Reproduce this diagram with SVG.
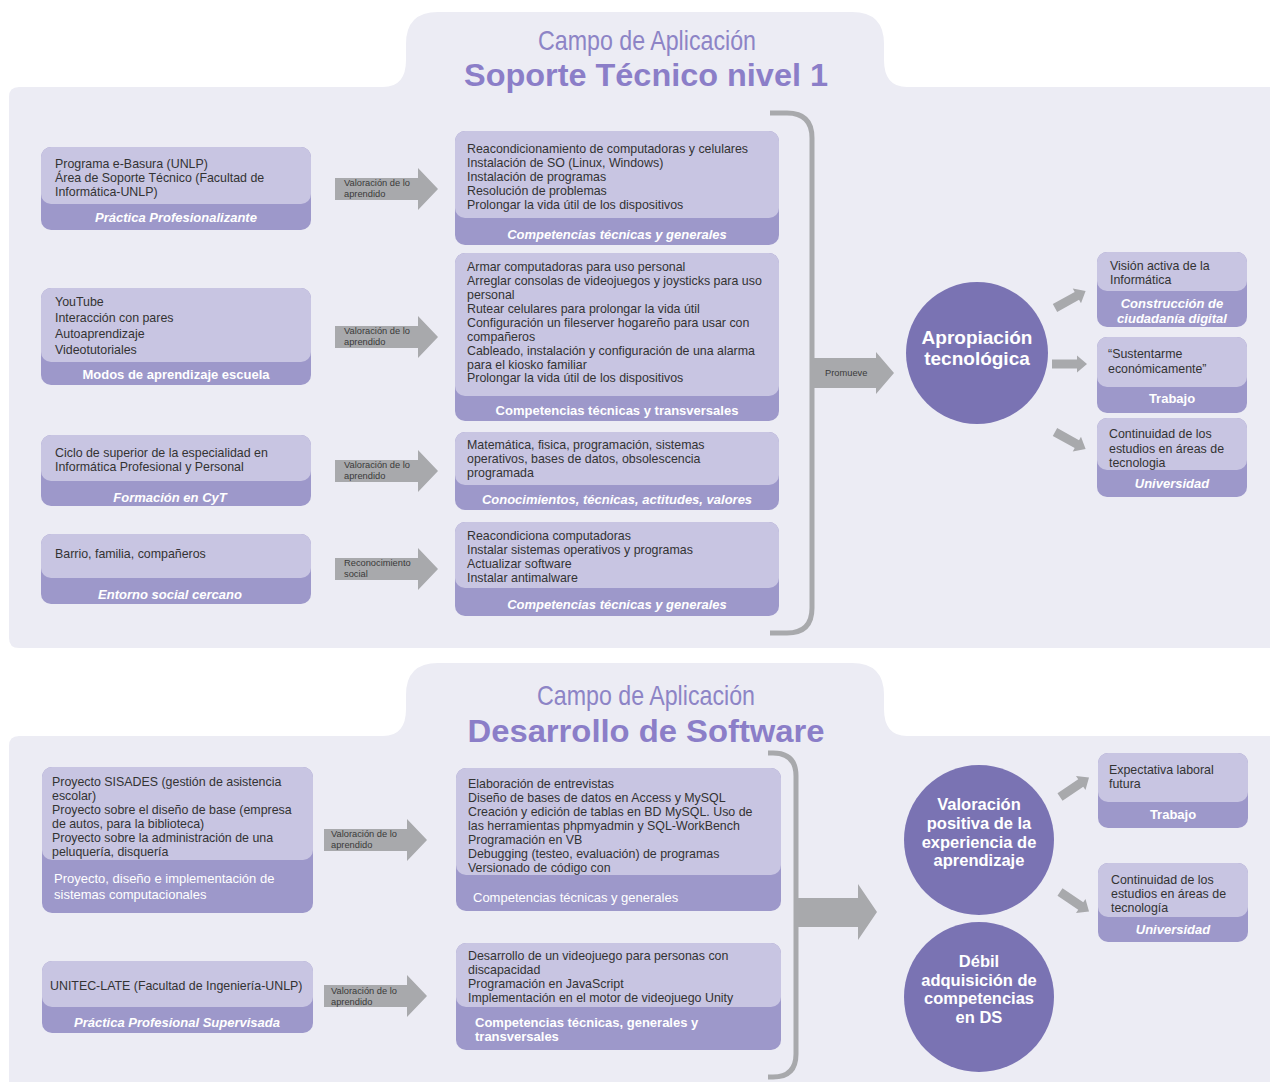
<svg xmlns="http://www.w3.org/2000/svg" width="1270" height="1082" viewBox="0 0 1270 1082">
<defs>
<style>
.panel{fill:#ECECF4}
.dk{fill:#9D98CA}
.lt{fill:#C8C5E2}
.circ{fill:#7A73B3}
.gr{fill:#A8A9AC}
.br{fill:none;stroke:#A8A9AC;stroke-width:5}
text{font-family:"Liberation Sans",Arial,sans-serif}
.t{font-size:12.4px;fill:#333333}
.lb{font-size:13px;fill:#FFFFFF;font-weight:bold;text-anchor:middle}
.lbi{font-size:13px;fill:#FFFFFF;font-weight:bold;font-style:italic;text-anchor:middle}
.lr{font-size:13px;fill:#FFFFFF}
.at{font-size:9.3px;fill:#3A3A3A}
.ct{font-size:19px;fill:#FFFFFF;font-weight:bold;text-anchor:middle}
.ct2{font-size:16.5px;fill:#FFFFFF;font-weight:bold;text-anchor:middle}
.h1{font-size:28px;fill:#8D84C6}
.h2{font-size:31px;fill:#8B7EC8;font-weight:bold}
</style>
<polygon id="blk" points="0,-11 83,-11 83,-21 103,0 83,21 83,11 0,11" class="gr"/>
<polygon id="sm" points="0,-4.5 25,-4.5 25,-8.5 35,0 25,8.5 25,4.5 0,4.5" class="gr"/>
</defs>

<rect x="0" y="0" width="1270" height="1082" fill="#FFFFFF"/>

<g id="panel1">
<path class="panel" d="M19 87 H383 Q406 87 406 60 V44 Q406 12 438 12 H852 Q884 12 884 44 V60 Q884 87 907 87 H1270 V648 H19 Q9 648 9 638 V97 Q9 87 19 87 Z"/>
<text class="h1" x="647" y="50" text-anchor="middle" textLength="218" lengthAdjust="spacingAndGlyphs">Campo de Aplicación</text>
<text class="h2" x="646" y="86" text-anchor="middle" textLength="364" lengthAdjust="spacingAndGlyphs">Soporte Técnico nivel 1</text>
</g>

<g id="panel2">
<path class="panel" d="M19 736 H383 Q406 736 406 709 V695 Q406 663 438 663 H852 Q884 663 884 695 V709 Q884 736 907 736 H1270 V1082 H9 V746 Q9 736 19 736 Z"/>
<text class="h1" x="646" y="705" text-anchor="middle" textLength="218" lengthAdjust="spacingAndGlyphs">Campo de Aplicación</text>
<text class="h2" x="646" y="742" text-anchor="middle" textLength="357" lengthAdjust="spacingAndGlyphs">Desarrollo de Software</text>
</g>

<g id="connectors">
<use href="#blk" transform="translate(335,189)"/>
<use href="#blk" transform="translate(335,337)"/>
<use href="#blk" transform="translate(335,471)"/>
<use href="#blk" transform="translate(335,569)"/>
<use href="#blk" transform="translate(324,840)"/>
<use href="#blk" transform="translate(324,996)"/>
<text class="at" x="344" y="186">Valoración de lo</text>
<text class="at" x="344" y="197">aprendido</text>
<text class="at" x="344" y="334">Valoración de lo</text>
<text class="at" x="344" y="345">aprendido</text>
<text class="at" x="344" y="468">Valoración de lo</text>
<text class="at" x="344" y="479">aprendido</text>
<text class="at" x="344" y="566">Reconocimiento</text>
<text class="at" x="344" y="577">social</text>
<text class="at" x="331" y="837">Valoración de lo</text>
<text class="at" x="331" y="848">aprendido</text>
<text class="at" x="331" y="994">Valoración de lo</text>
<text class="at" x="331" y="1005">aprendido</text>

<path class="br" d="M770 113 H787 Q812 113 812 138 V608 Q812 633 787 633 H770"/>
<polygon class="gr" points="812,358 876,358 876,352 894,373 876,394 876,388 812,388"/>
<text class="at" x="825" y="376">Promueve</text>

<path class="br" d="M768 753 H773 Q796 753 796 776 V1054 Q796 1077 773 1077 H768"/>
<polygon class="gr" points="796,898 858,898 858,884 877,912 858,940 858,927 796,927"/>

<use href="#sm" transform="translate(1055,308) rotate(-29)"/>
<use href="#sm" transform="translate(1052,364)"/>
<use href="#sm" transform="translate(1055,432) rotate(29)"/>
<use href="#sm" transform="translate(1060,797) rotate(-34)"/>
<use href="#sm" transform="translate(1060,892) rotate(34)"/>
</g>

<g id="nA">
<rect class="dk" x="41" y="147" width="270" height="83" rx="10"/>
<rect class="lt" x="41" y="147" width="270" height="57" rx="10"/>
<text class="t" x="55" y="167.5">Programa e-Basura (UNLP)</text>
<text class="t" x="55" y="181.5">Área de Soporte Técnico (Facultad de</text>
<text class="t" x="55" y="195.5">Informática-UNLP)</text>
<text class="lbi" x="176" y="221.5">Práctica Profesionalizante</text>
</g>
<g id="nB">
<rect class="dk" x="41" y="288" width="270" height="97" rx="10"/>
<rect class="lt" x="41" y="288" width="270" height="74" rx="10"/>
<text class="t" x="55" y="305.5">YouTube</text>
<text class="t" x="55" y="321.5">Interacción con pares</text>
<text class="t" x="55" y="337.5">Autoaprendizaje</text>
<text class="t" x="55" y="353.5">Videotutoriales</text>
<text class="lb" x="176" y="378.5">Modos de aprendizaje escuela</text>
</g>
<g id="nC">
<rect class="dk" x="41" y="435" width="270" height="71" rx="10"/>
<rect class="lt" x="41" y="435" width="270" height="46" rx="10"/>
<text class="t" x="55" y="456.5">Ciclo de superior de la especialidad en</text>
<text class="t" x="55" y="470.5">Informática Profesional y Personal</text>
<text class="lbi" x="170" y="501.5">Formación en CyT</text>
</g>
<g id="nD">
<rect class="dk" x="41" y="534" width="270" height="70" rx="10"/>
<rect class="lt" x="41" y="534" width="270" height="44" rx="10"/>
<text class="t" x="55" y="557.5">Barrio, familia, compañeros</text>
<text class="lbi" x="170" y="598.5">Entorno social cercano</text>
</g>

<g id="m1">
<rect class="dk" x="455" y="131" width="324" height="114" rx="10"/>
<rect class="lt" x="455" y="131" width="324" height="87" rx="10"/>
<text class="t" x="467" y="152.5">Reacondicionamiento de computadoras y celulares</text>
<text class="t" x="467" y="166.5">Instalación de SO (Linux, Windows)</text>
<text class="t" x="467" y="180.5">Instalación de programas</text>
<text class="t" x="467" y="194.5">Resolución de problemas</text>
<text class="t" x="467" y="208.5">Prolongar la vida útil de los dispositivos</text>
<text class="lbi" x="617" y="238.5">Competencias técnicas y generales</text>
</g>
<g id="m2">
<rect class="dk" x="455" y="253" width="324" height="168" rx="10"/>
<rect class="lt" x="455" y="253" width="324" height="143" rx="10"/>
<text class="t" x="467" y="270.5">Armar computadoras para uso personal</text>
<text class="t" x="467" y="284.5">Arreglar consolas de videojuegos y joysticks para uso</text>
<text class="t" x="467" y="298.5">personal</text>
<text class="t" x="467" y="312.5">Rutear celulares para prolongar la vida útil</text>
<text class="t" x="467" y="326.5">Configuración un fileserver hogareño para usar con</text>
<text class="t" x="467" y="340.5">compañeros</text>
<text class="t" x="467" y="354.5">Cableado, instalación y configuración de una alarma</text>
<text class="t" x="467" y="368.5">para el kiosko familiar</text>
<text class="t" x="467" y="382">Prolongar la vida útil de los dispositivos</text>
<text class="lb" x="617" y="414.5">Competencias técnicas y transversales</text>
</g>
<g id="m3">
<rect class="dk" x="455" y="432" width="324" height="78" rx="10"/>
<rect class="lt" x="455" y="432" width="324" height="53" rx="10"/>
<text class="t" x="467" y="448.5">Matemática, fisica, programación, sistemas</text>
<text class="t" x="467" y="462.5">operativos, bases de datos, obsolescencia</text>
<text class="t" x="467" y="476.5">programada</text>
<text class="lbi" x="617" y="503.5">Conocimientos, técnicas, actitudes, valores</text>
</g>
<g id="m4">
<rect class="dk" x="455" y="522" width="324" height="94" rx="10"/>
<rect class="lt" x="455" y="522" width="324" height="66" rx="10"/>
<text class="t" x="467" y="539.5">Reacondiciona computadoras</text>
<text class="t" x="467" y="553.5">Instalar sistemas operativos y programas</text>
<text class="t" x="467" y="567.5">Actualizar software</text>
<text class="t" x="467" y="581.5">Instalar antimalware</text>
<text class="lbi" x="617" y="608.5">Competencias técnicas y generales</text>
</g>

<g id="c1">
<circle class="circ" cx="977" cy="353" r="71"/>
<text class="ct" x="977" y="344">Apropiación</text>
<text class="ct" x="977" y="365">tecnológica</text>
</g>

<g id="r1">
<rect class="dk" x="1097" y="252" width="150" height="75" rx="10"/>
<rect class="lt" x="1097" y="252" width="150" height="39" rx="10"/>
<text class="t" x="1110" y="269.5">Visión activa de la</text>
<text class="t" x="1110" y="283.5">Informática</text>
<text class="lbi" x="1172" y="307.5">Construcción de</text>
<text class="lbi" x="1172" y="322.5">ciudadanía digital</text>
</g>
<g id="r2">
<rect class="dk" x="1097" y="337" width="150" height="76" rx="10"/>
<rect class="lt" x="1097" y="337" width="150" height="50" rx="10"/>
<text class="t" x="1108" y="357.5">“Sustentarme</text>
<text class="t" x="1108" y="372.5">económicamente”</text>
<text class="lb" x="1172" y="402.5">Trabajo</text>
</g>
<g id="r3">
<rect class="dk" x="1097" y="418" width="150" height="79" rx="10"/>
<rect class="lt" x="1097" y="418" width="150" height="52" rx="10"/>
<text class="t" x="1109" y="437.5">Continuidad de los</text>
<text class="t" x="1109" y="452.5">estudios en áreas de</text>
<text class="t" x="1109" y="466.5">tecnologia</text>
<text class="lbi" x="1172" y="487.5">Universidad</text>
</g>

<g id="l1">
<rect class="dk" x="42" y="767" width="271" height="146" rx="10"/>
<rect class="lt" x="42" y="767" width="271" height="93" rx="10"/>
<text class="t" x="52" y="785.5">Proyecto SISADES (gestión de asistencia</text>
<text class="t" x="52" y="799.5">escolar)</text>
<text class="t" x="52" y="813.5">Proyecto sobre el diseño de base (empresa</text>
<text class="t" x="52" y="827.5">de autos, para la biblioteca)</text>
<text class="t" x="52" y="841.5">Proyecto sobre la administración de una</text>
<text class="t" x="52" y="855.5">peluquería, disquería</text>
<text class="lr" x="54" y="882.5">Proyecto, diseño e implementación de</text>
<text class="lr" x="54" y="898.5">sistemas computacionales</text>
</g>
<g id="l2">
<rect class="dk" x="42" y="961" width="271" height="72" rx="10"/>
<rect class="lt" x="42" y="961" width="271" height="46" rx="10"/>
<text class="t" x="50" y="989.5">UNITEC-LATE (Facultad de Ingeniería-UNLP)</text>
<text class="lbi" x="177" y="1026.5">Práctica Profesional Supervisada</text>
</g>
<g id="m5">
<rect class="dk" x="456" y="768" width="325" height="143" rx="10"/>
<rect class="lt" x="456" y="768" width="325" height="107" rx="10"/>
<text class="t" x="468" y="787.5">Elaboración de entrevistas</text>
<text class="t" x="468" y="801.5">Diseño de bases de datos en Access y MySQL</text>
<text class="t" x="468" y="815.5">Creación y edición de tablas en BD MySQL. Uso de</text>
<text class="t" x="468" y="829.5">las herramientas phpmyadmin y SQL-WorkBench</text>
<text class="t" x="468" y="843.5">Programación en VB</text>
<text class="t" x="468" y="857.5">Debugging (testeo, evaluación) de programas</text>
<text class="t" x="468" y="871.5">Versionado de código con</text>
<text class="lr" x="473" y="901.5">Competencias técnicas y generales</text>
</g>
<g id="m6">
<rect class="dk" x="456" y="943" width="325" height="107" rx="10"/>
<rect class="lt" x="456" y="943" width="325" height="64" rx="10"/>
<text class="t" x="468" y="959.5">Desarrollo de un videojuego para personas con</text>
<text class="t" x="468" y="973.5">discapacidad</text>
<text class="t" x="468" y="987.5">Programación en JavaScript</text>
<text class="t" x="468" y="1001.5">Implementación en el motor de videojuego Unity</text>
<text class="lr" x="475" y="1026.5" font-weight="bold">Competencias técnicas, generales y</text>
<text class="lr" x="475" y="1040.5" font-weight="bold">transversales</text>
</g>
<g id="c2">
<circle class="circ" cx="979" cy="840" r="75"/>
<text class="ct2" x="979" y="810">Valoración</text>
<text class="ct2" x="979" y="829">positiva de la</text>
<text class="ct2" x="979" y="848">experiencia de</text>
<text class="ct2" x="979" y="866">aprendizaje</text>
</g>
<g id="c3">
<circle class="circ" cx="979" cy="997" r="75"/>
<text class="ct2" x="979" y="967">Débil</text>
<text class="ct2" x="979" y="986">adquisición de</text>
<text class="ct2" x="979" y="1004">competencias</text>
<text class="ct2" x="979" y="1023">en DS</text>
</g>
<g id="r4">
<rect class="dk" x="1098" y="753" width="150" height="75" rx="10"/>
<rect class="lt" x="1098" y="753" width="150" height="49" rx="10"/>
<text class="t" x="1109" y="773.5">Expectativa laboral</text>
<text class="t" x="1109" y="787.5">futura</text>
<text class="lb" x="1173" y="818.5">Trabajo</text>
</g>
<g id="r5">
<rect class="dk" x="1098" y="863" width="150" height="79" rx="10"/>
<rect class="lt" x="1098" y="863" width="150" height="54" rx="10"/>
<text class="t" x="1111" y="883.5">Continuidad de los</text>
<text class="t" x="1111" y="897.5">estudios en áreas de</text>
<text class="t" x="1111" y="911.5">tecnología</text>
<text class="lbi" x="1173" y="933.5">Universidad</text>
</g>
</svg>
